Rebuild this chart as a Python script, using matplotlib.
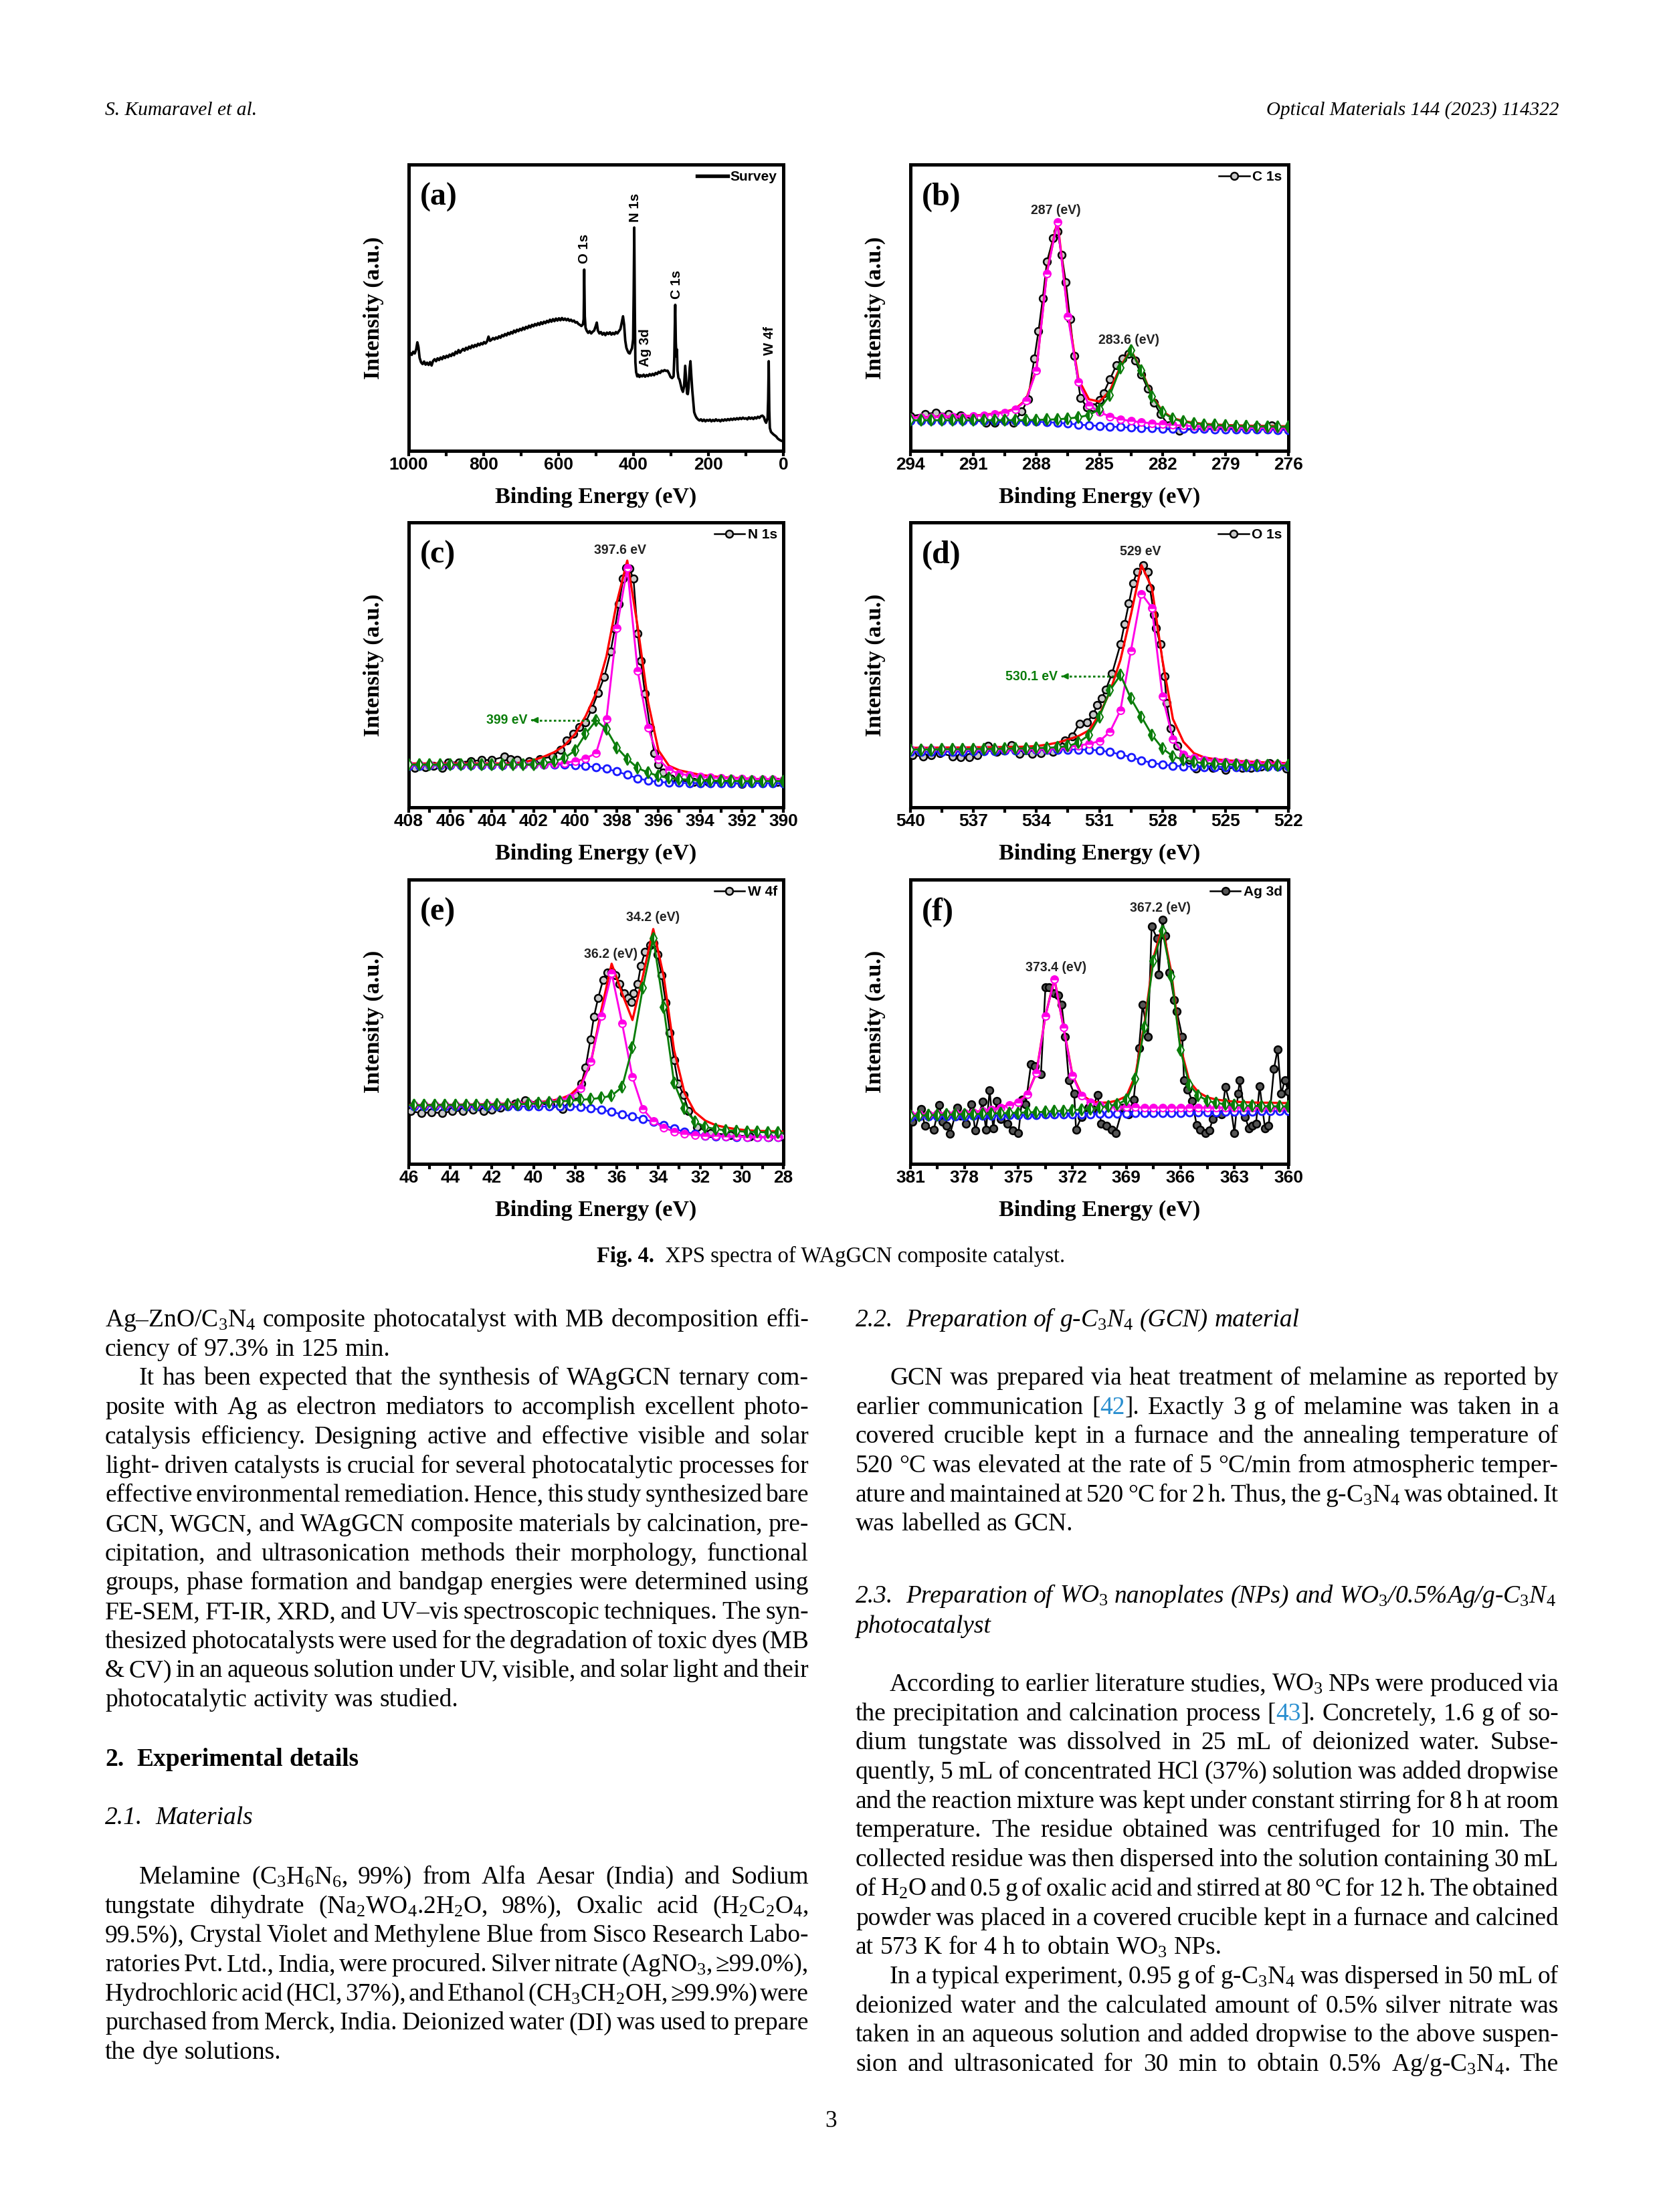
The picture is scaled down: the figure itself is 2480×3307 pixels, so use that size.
import re
import numpy as np
import matplotlib
matplotlib.use("Agg")
import matplotlib.pyplot as plt
from matplotlib.ticker import MultipleLocator
from matplotlib.lines import Line2D

plt.rcParams["font.family"] = "Liberation Sans"
plt.rcParams["font.weight"] = "bold"
plt.rcParams["mathtext.fontset"] = "custom"
plt.rcParams["mathtext.rm"] = "Liberation Serif:weight=normal"
plt.rcParams["mathtext.it"] = "Liberation Serif:italic:weight=normal"
plt.rcParams["mathtext.bf"] = "Liberation Serif:weight=bold"

# ---------------- data (intensities in % of the plot height) ----------------
survey_pts = [
    (1000, 33.8), (996, 34.2), (992, 33.5), (988, 34.6), (984, 34.0), (980, 35.5), (977, 37.9), (974, 36.2),
    (971, 32.5), (967, 30.9), (963, 30.3), (959, 31.2), (955, 30.1), (951, 30.8), (947, 30.0), (943, 31.0),
    (939, 29.8), (935, 31.4), (931, 32.0), (927, 31.3), (923, 32.3), (919, 31.7), (915, 32.6), (911, 32.0),
    (907, 33.0), (903, 32.4), (899, 33.2), (895, 32.7), (891, 33.6), (887, 33.1), (883, 34.0), (879, 33.4),
    (875, 34.6), (871, 34.0), (867, 35.2), (863, 34.3), (859, 35.0), (855, 35.6), (851, 35.0), (847, 36.0),
    (843, 35.4), (839, 36.4), (835, 35.8), (831, 36.8), (827, 36.2), (823, 37.0), (819, 36.5), (815, 37.4),
    (811, 36.9), (807, 37.6), (803, 37.2), (799, 38.0), (795, 37.5), (791, 38.2), (787, 39.9), (783, 38.4),
    (779, 38.8), (775, 39.4), (771, 38.9), (767, 39.6), (763, 39.2), (759, 40.0), (755, 39.5), (751, 40.4),
    (747, 40.0), (743, 40.8), (739, 40.3), (735, 41.2), (731, 40.7), (727, 41.5), (723, 41.0), (719, 42.0),
    (715, 41.4), (711, 42.3), (707, 41.8), (703, 42.6), (699, 42.1), (695, 43.0), (691, 42.4), (687, 43.3),
    (683, 42.8), (679, 43.7), (675, 43.1), (671, 44.0), (667, 43.5), (663, 44.3), (659, 43.8), (655, 44.6),
    (651, 44.0), (647, 44.9), (643, 44.3), (639, 45.1), (635, 44.6), (631, 45.4), (627, 44.9), (623, 45.8),
    (619, 45.1), (615, 46.0), (611, 45.3), (607, 46.2), (603, 45.5), (599, 46.3), (595, 45.6), (591, 46.4),
    (587, 45.7), (583, 46.2), (579, 45.6), (575, 46.1), (571, 45.4), (567, 45.8), (563, 45.2), (559, 45.5),
    (555, 44.8), (551, 45.0), (547, 44.3), (543, 44.0), (539, 43.6), (535, 44.2), (533, 46.0), (531.5, 63.3),
    (530, 47.0), (528, 43.0), (525, 42.0), (521, 41.2), (517, 41.8), (513, 41.0), (509, 41.6), (505, 42.0),
    (501, 43.5), (498, 44.8), (495, 42.0), (491, 41.0), (487, 41.5), (483, 40.6), (479, 41.2), (475, 40.4),
    (471, 41.3), (467, 40.8), (463, 41.4), (459, 40.6), (455, 41.2), (451, 40.7), (447, 41.5), (443, 41.0),
    (439, 41.8), (435, 42.5), (431, 45.0), (428, 47.0), (425, 44.0), (422, 38.5), (419, 36.0), (416, 35.0),
    (413, 34.2), (410, 34.0), (407, 35.0), (404, 35.8), (401, 39.0), (399.5, 55.0), (398, 78.0), (396.5, 50.0),
    (395, 31.0), (393, 27.5), (390, 26.0), (387, 26.6), (384, 25.8), (381, 26.4), (377, 26.0), (373, 26.6),
    (369, 25.9), (365, 26.5), (361, 26.1), (357, 26.8), (353, 26.3), (349, 26.9), (345, 26.4), (341, 27.2),
    (337, 26.8), (333, 27.6), (329, 27.2), (325, 28.0), (321, 27.8), (317, 28.2), (313, 27.9), (309, 28.0),
    (305, 27.0), (301, 25.8), (297, 25.4), (293, 26.0), (291, 33.0), (289.5, 45.0), (288.5, 51.0), (287, 38.0),
    (285.5, 33.0), (284, 35.4), (282.5, 28.0), (280, 25.5), (277, 24.8), (274, 23.2), (271, 21.5), (268, 20.6),
    (265, 22.5), (262, 29.7), (259, 24.0), (257, 20.0), (255, 19.8), (253, 22.0), (250, 29.0), (248, 31.3),
    (246, 27.0), (243, 21.0), (240, 16.5), (238, 13.5), (235, 12.4), (232, 11.6), (228, 11.0), (224, 10.6),
    (220, 11.0), (216, 10.4), (212, 10.9), (208, 10.3), (204, 10.8), (200, 10.5), (196, 10.9), (192, 10.3),
    (188, 10.8), (184, 10.4), (180, 11.0), (176, 10.5), (172, 10.8), (168, 10.3), (164, 10.9), (160, 10.5),
    (156, 11.0), (152, 10.6), (148, 11.1), (144, 10.7), (140, 11.2), (136, 10.8), (132, 11.3), (128, 10.9),
    (124, 11.4), (120, 11.0), (116, 11.5), (112, 11.1), (108, 11.6), (104, 11.2), (100, 11.4), (96, 11.0),
    (92, 11.7), (88, 11.2), (84, 11.6), (80, 11.1), (76, 11.7), (72, 11.3), (68, 11.9), (64, 11.5),
    (60, 12.1), (56, 12.3), (52, 11.8), (49, 10.5), (46, 9.8), (42, 11.5), (40.5, 18.0), (39, 31.3),
    (37.5, 14.0), (36, 8.0), (33, 6.6), (30, 6.2), (27, 5.8), (23, 5.4), (19, 5.0), (15, 4.3),
    (11, 3.9), (7, 3.6), (3, 3.4), (0, 3.4),
]
survey_labels = [("O 1s", 531, 65.5), ("N 1s", 395.5, 80.0), ("C 1s", 284.0, 53.0),
                 ("Ag 3d", 369.4, 29.5), ("W 4f", 35.8, 33.5)]

# C 1s
be_b = [294.0, 293.5, 293.0, 292.5, 292.0, 291.5, 291.0, 290.5, 290.0, 289.5, 289.0, 288.5, 288.0,
        287.5, 287.0, 286.5, 286.0, 285.5, 285.0, 284.5, 284.0, 283.5, 283.0, 282.5, 282.0, 281.5,
        281.0, 280.5, 280.0, 279.5, 279.0, 278.5, 278.0, 277.5, 277.0, 276.5, 276.0]
bg_b = [10.6, 10.6, 10.6, 10.6, 10.6, 10.5, 10.5, 10.5, 10.5, 10.4, 10.4, 10.3, 10.2, 10.0, 9.8, 9.5,
        9.2, 8.9, 8.7, 8.5, 8.3, 8.1, 8.0, 7.9, 7.8, 7.7, 7.7, 7.6, 7.6, 7.5, 7.5, 7.5, 7.4, 7.4, 7.4, 7.3, 7.3]
pk1_b = [11.5, 11.6, 11.7, 11.8, 11.9, 12.0, 12.2, 12.4, 12.8, 13.4, 14.5, 17.5, 28.0, 62.0, 80.0, 47.0,
         24.0, 16.0, 13.5, 12.0, 11.0, 10.4, 10.0, 9.6, 9.3, 9.0, 8.8, 8.6, 8.5, 8.4, 8.3, 8.2, 8.1, 8.1,
         8.0, 8.0, 8.0]
pk2_b = [10.7, 10.7, 10.7, 10.7, 10.7, 10.7, 10.7, 10.7, 10.7, 10.7, 10.7, 10.7, 10.8, 10.9, 11.0, 11.3,
         11.7, 12.5, 14.5, 19.5, 29.0, 35.0, 28.0, 19.0, 13.5, 11.2, 10.2, 9.6, 9.2, 9.0, 8.8, 8.7, 8.6,
         8.5, 8.5, 8.4, 8.4]
env_b = [11.6, 11.7, 11.8, 11.9, 12.0, 12.1, 12.3, 12.6, 13.0, 13.6, 14.7, 17.8, 28.5, 62.5, 80.5, 48.0,
         25.0, 18.0, 17.2, 21.0, 29.5, 35.2, 28.2, 19.3, 13.8, 11.4, 10.4, 9.8, 9.4, 9.2, 9.0, 8.9, 8.8,
         8.7, 8.7, 8.6, 8.6]
dat_b_x = [294.0, 293.3, 292.8, 292.2, 291.6, 291.0, 290.4, 290.0, 289.5, 289.1, 288.7, 288.4, 288.1,
           287.9, 287.7, 287.5, 287.2, 287.0, 286.8, 286.6, 286.4, 286.2, 285.9, 285.6, 285.3, 285.0,
           284.8, 284.5, 284.2, 283.9, 283.6, 283.3, 283.0, 282.7, 282.4, 282.1, 281.7, 281.2, 280.5,
           279.5, 278.5, 277.5, 276.8, 276.0]
dat_b_y = [12.1, 12.9, 13.3, 12.9, 12.5, 10.9, 9.7, 9.7, 10.5, 9.7, 13.7, 18.1, 32.3, 41.9, 53.2, 66.1,
           74.2, 76.6, 68.5, 58.9, 46.0, 33.1, 18.5, 15.3, 15.3, 17.7, 20.2, 25.0, 29.8, 32.3, 33.9, 31.5,
           26.6, 21.8, 16.9, 12.9, 8.9, 6.9, 7.7, 7.7, 8.1, 8.5, 8.9, 7.3]

# N 1s
be_c = [408.0, 407.5, 407.0, 406.5, 406.0, 405.5, 405.0, 404.5, 404.0, 403.5, 403.0, 402.5, 402.0,
        401.5, 401.0, 400.5, 400.0, 399.5, 399.0, 398.5, 398.0, 397.5, 397.0, 396.5, 396.0, 395.5,
        395.0, 394.5, 394.0, 393.5, 393.0, 392.5, 392.0, 391.5, 391.0, 390.5, 390.0]
bg_c = [14.6, 14.6, 14.7, 14.7, 14.7, 14.8, 14.8, 14.8, 14.9, 14.9, 15.0, 15.0, 15.1, 15.1, 15.1, 15.0,
        14.8, 14.5, 14.1, 13.5, 12.6, 11.4, 10.2, 9.4, 8.9, 8.7, 8.6, 8.5, 8.5, 8.5, 8.5, 8.5, 8.5, 8.5,
        8.5, 8.5, 8.5]
pk1_c = [15.0, 15.0, 15.0, 15.0, 15.0, 15.0, 15.0, 15.0, 15.0, 15.0, 15.0, 15.0, 15.0, 15.0, 15.2, 15.6,
         16.2, 17.2, 19.0, 31.0, 63.0, 84.0, 48.0, 28.0, 17.0, 13.2, 11.8, 11.2, 10.8, 10.5, 10.3, 10.1,
         10.0, 9.9, 9.8, 9.8, 9.7]
pk2_c = [15.0, 15.0, 15.0, 15.0, 15.0, 15.0, 15.0, 15.0, 15.0, 15.0, 15.0, 15.0, 15.0, 15.5, 16.2, 17.4,
         20.0, 25.8, 30.5, 27.4, 21.0, 17.0, 13.8, 12.2, 11.0, 10.3, 9.9, 9.7, 9.5, 9.4, 9.3, 9.3, 9.2,
         9.2, 9.2, 9.2, 9.2]
env_c = [15.4, 15.4, 15.4, 15.4, 15.4, 15.4, 15.4, 15.4, 15.4, 15.4, 15.4, 15.8, 16.6, 17.8, 19.4, 21.8,
         25.8, 32.0, 40.0, 53.0, 72.0, 86.6, 63.4, 37.0, 20.0, 14.6, 13.0, 12.2, 11.4, 11.0, 10.6, 10.4,
         10.2, 10.0, 9.9, 9.8, 9.8]
dat_c_x = [407.7, 407.2, 406.8, 406.4, 406.1, 405.6, 405.0, 404.5, 404.0, 403.4, 403.1, 402.8, 402.2,
           401.7, 401.1, 400.7, 400.4, 400.1, 399.8, 399.5, 399.2, 398.9, 398.6, 398.3, 398.1, 397.9,
           397.7, 397.55, 397.4, 397.2, 397.0, 396.85, 396.65, 396.4, 396.2, 396.0, 395.8, 395.4, 395.0,
           394.3, 393.6, 393.0, 392.0, 391.0, 390.3]
dat_c_y = [13.8, 14.2, 14.6, 13.8, 15.8, 15.8, 16.2, 16.6, 16.6, 17.8, 17.0, 16.6, 16.3, 17.0, 17.8, 20.2,
           23.4, 25.8, 28.2, 29.8, 34.6, 40.2, 45.8, 54.6, 62.6, 71.4, 80.2, 84.0, 83.8, 80.2, 61.0, 51.4,
           40.0, 28.0, 19.0, 15.0, 12.2, 10.2, 9.4, 9.0, 9.0, 9.0, 8.2, 9.4, 9.0]

# O 1s
be_d = [540.0, 539.5, 539.0, 538.5, 538.0, 537.5, 537.0, 536.5, 536.0, 535.5, 535.0, 534.5, 534.0,
        533.5, 533.0, 532.5, 532.0, 531.5, 531.0, 530.5, 530.0, 529.5, 529.0, 528.5, 528.0, 527.5,
        527.0, 526.5, 526.0, 525.5, 525.0, 524.5, 524.0, 523.5, 523.0, 522.5, 522.0]
bg_d = [19.5, 19.5, 19.5, 19.5, 19.6, 19.6, 19.7, 19.7, 19.8, 19.9, 20.0, 20.1, 20.2, 20.3, 20.3, 20.3,
        20.3, 20.2, 20.0, 19.4, 18.6, 17.6, 16.5, 15.6, 15.0, 14.6, 14.4, 14.3, 14.2, 14.2, 14.2, 14.2,
        14.2, 14.2, 14.3, 14.3, 14.3]
pk1_d = [20.4, 20.4, 20.4, 20.4, 20.4, 20.4, 20.4, 20.4, 20.4, 20.4, 20.4, 20.4, 20.4, 20.4, 20.8, 21.2,
         21.7, 22.3, 23.2, 26.5, 34.0, 55.0, 75.0, 70.0, 39.0, 24.0, 18.5, 17.3, 16.7, 16.3, 16.0, 15.8,
         15.6, 15.4, 15.3, 15.2, 15.1]
pk2_d = [20.3, 20.3, 20.3, 20.4, 20.4, 20.4, 20.5, 20.5, 20.5, 20.6, 20.6, 20.7, 20.8, 20.9, 21.1, 21.5,
         22.7, 25.4, 31.8, 41.0, 46.5, 38.2, 31.8, 25.4, 20.7, 17.9, 16.7, 15.9, 15.5, 15.3, 15.1, 15.0,
         14.9, 14.8, 14.8, 14.7, 14.7]
env_d = [20.9, 20.9, 20.9, 21.0, 21.0, 21.0, 21.1, 21.1, 21.1, 21.2, 21.2, 21.3, 21.5, 22.0, 22.7, 23.8,
         25.0, 27.0, 32.6, 40.5, 51.7, 67.6, 85.0, 77.0, 51.7, 31.0, 23.0, 19.0, 17.5, 16.9, 16.5, 16.3,
         16.1, 15.9, 15.7, 15.6, 15.5]
dat_d_x = [539.9, 539.4, 539.0, 538.6, 538.0, 537.6, 537.2, 536.8, 536.3, 535.9, 535.55, 535.2, 534.8,
           534.2, 533.8, 533.2, 532.65, 532.3, 531.95, 531.6, 531.3, 531.1, 530.9, 530.7, 530.4, 530.0,
           529.8, 529.6, 529.4, 529.2, 528.9, 528.7, 528.6, 528.4, 528.3, 528.1, 527.9, 527.8, 527.6,
           527.3, 527.0, 526.7, 526.4, 526.0, 525.6, 525.0, 524.5, 524.2, 523.8, 523.3, 522.9, 522.5, 522.1]
dat_d_y = [18.3, 17.9, 18.3, 19.1, 17.9, 17.5, 17.5, 18.3, 21.5, 19.5, 19.9, 21.9, 18.7, 18.7, 19.1, 19.5,
           23.5, 25.0, 29.4, 29.8, 32.6, 35.8, 38.2, 41.3, 46.9, 57.2, 64.4, 71.5, 78.7, 82.7, 85.0, 82.7,
           77.1, 67.6, 62.8, 57.2, 46.1, 36.6, 27.8, 21.5, 18.3, 16.7, 13.5, 14.3, 13.9, 13.1, 14.3, 13.9,
           13.9, 14.3, 15.5, 14.3, 13.5]

# W 4f
be_e = [46.25, 45.75, 45.25, 44.75, 44.25, 43.75, 43.25, 42.75, 42.25, 41.75, 41.25, 40.75, 40.25,
        39.75, 39.25, 38.75, 38.25, 37.75, 37.25, 36.75, 36.25, 35.75, 35.25, 34.75, 34.25, 33.75,
        33.25, 32.75, 32.25, 31.75, 31.25, 30.75, 30.25, 29.75, 29.25, 28.75, 28.25, 27.75]
bg_e = [20.2, 20.2, 20.2, 20.2, 20.2, 20.2, 20.2, 20.2, 20.2, 20.2, 20.2, 20.2, 20.2, 20.2, 20.2, 20.2,
        20.2, 20.0, 19.6, 19.0, 18.3, 17.4, 16.6, 15.8, 14.8, 13.6, 12.4, 11.3, 10.5, 9.9, 9.7, 9.6, 9.5,
        9.5, 9.4, 9.4, 9.3, 9.3]
pk1_e = [20.6, 20.6, 20.6, 20.6, 20.7, 20.7, 20.8, 20.8, 20.9, 21.0, 21.0, 21.1, 21.3, 21.5, 21.8, 22.3,
         23.4, 26.5, 36.0, 52.0, 67.0, 49.5, 30.5, 19.3, 15.0, 12.8, 11.3, 10.6, 10.1, 9.9, 9.8, 9.7, 9.6,
         9.5, 9.4, 9.4, 9.3, 9.3]
pk2_e = [20.6, 20.6, 20.6, 20.7, 20.7, 20.7, 20.8, 20.8, 20.8, 20.9, 20.9, 21.0, 21.1, 21.3, 21.7, 22.0,
         22.2, 22.5, 22.8, 23.2, 24.0, 27.0, 41.0, 62.0, 79.4, 55.0, 28.5, 19.5, 14.8, 13.0, 12.2, 11.8,
         11.5, 11.3, 11.2, 11.1, 11.0, 10.9]
env_e = [20.7, 20.7, 20.7, 20.8, 20.8, 20.8, 20.9, 20.9, 21.0, 21.1, 21.2, 21.3, 21.5, 21.7, 22.1, 22.8,
         24.2, 27.5, 35.5, 54.0, 70.4, 60.0, 50.6, 66.0, 82.6, 66.0, 40.0, 25.0, 18.2, 15.2, 13.6, 12.8,
         12.2, 11.8, 11.6, 11.5, 11.4, 11.3]
dat_e_x = [45.9, 45.4, 44.9, 44.4, 43.9, 43.4, 42.9, 42.4, 42.0, 41.6, 40.9, 40.4, 39.8, 39.2, 38.6, 38.0,
           37.7, 37.5, 37.27, 37.1, 36.9, 36.66, 36.46, 36.26, 36.06, 35.86, 35.66, 35.45, 35.3, 35.2,
           35.0, 34.85, 34.65, 34.4, 34.25, 34.05, 33.85, 33.65, 33.45, 33.25, 33.05, 32.8, 32.55, 32.15,
           31.5, 30.55, 29.6, 28.7, 28.1]
dat_e_y = [18.6, 17.8, 18.2, 17.8, 18.6, 18.6, 19.0, 18.6, 19.0, 19.8, 21.1, 22.3, 21.5, 20.6, 19.4, 24.3,
           28.3, 34.0, 43.7, 51.8, 58.3, 64.8, 67.2, 67.6, 66.4, 63.2, 59.9, 58.3, 57.0, 59.9, 63.2, 69.6,
           74.5, 76.9, 77.7, 73.7, 66.4, 56.7, 46.2, 36.4, 28.3, 24.3, 18.6, 13.0, 10.9, 10.1, 9.7, 9.3, 9.7]

# Ag 3d
be_f = [381.0, 380.5, 380.0, 379.5, 379.0, 378.5, 378.0, 377.5, 377.0, 376.5, 376.0, 375.5, 375.0,
        374.5, 374.0, 373.5, 373.0, 372.5, 372.0, 371.5, 371.0, 370.5, 370.0, 369.5, 369.0, 368.5,
        368.0, 367.5, 367.0, 366.5, 366.0, 365.5, 365.0, 364.5, 364.0, 363.5, 363.0, 362.5, 362.0,
        361.5, 361.0, 360.5, 360.0]
bg_f = [16.5, 16.6, 16.6, 16.7, 16.7, 16.8, 16.8, 16.9, 16.9, 17.0, 17.0, 17.1, 17.1, 17.2, 17.2, 17.3,
        17.3, 17.4, 17.4, 17.5, 17.5, 17.6, 17.6, 17.7, 17.7, 17.8, 17.8, 17.9, 17.9, 18.0, 18.0, 18.1,
        18.1, 18.2, 18.2, 18.3, 18.3, 18.4, 18.4, 18.5, 18.5, 18.6, 18.6]
pk1_f = [17.3, 17.4, 17.5, 17.6, 17.7, 17.8, 18.0, 18.2, 18.5, 19.0, 19.8, 20.6, 21.6, 24.5, 32.0, 52.0,
         65.0, 48.0, 31.0, 24.0, 21.6, 20.6, 20.2, 20.0, 19.9, 19.9, 19.8, 19.8, 19.8, 19.8, 19.8, 19.8,
         19.8, 19.8, 19.8, 19.8, 19.8, 19.8, 19.8, 19.8, 19.8, 19.8, 19.8]
pk2_f = [16.9, 17.0, 17.1, 17.2, 17.3, 17.4, 17.5, 17.5, 17.6, 17.7, 17.8, 17.9, 18.0, 18.1, 18.2, 18.3,
         18.5, 18.7, 18.9, 19.1, 19.4, 19.8, 20.3, 21.0, 22.5, 30.0, 48.0, 71.4, 82.0, 66.0, 40.0, 27.8,
         24.0, 22.2, 21.4, 21.0, 20.7, 20.5, 20.4, 20.3, 20.3, 20.2, 20.2]
env_f = [17.4, 17.5, 17.6, 17.7, 17.8, 17.9, 18.1, 18.3, 18.6, 19.1, 19.9, 20.7, 21.7, 24.6, 32.1, 52.1,
         65.1, 48.2, 31.3, 24.4, 22.2, 21.5, 21.6, 22.3, 23.8, 31.2, 49.2, 72.6, 83.2, 67.2, 41.2, 29.0,
         25.2, 23.4, 22.6, 22.2, 21.9, 21.7, 21.6, 21.5, 21.5, 21.4, 21.4]
dat_f_x = [380.9, 380.4, 380.2, 379.7, 379.4, 379.2, 379.0, 378.8, 378.4, 378.2, 377.9, 377.6, 377.4,
           377.0, 376.8, 376.6, 376.4, 376.2, 376.0, 375.6, 375.3, 375.0, 374.8, 374.6, 374.3, 374.1,
           373.75, 373.5, 373.3, 373.0, 372.8, 372.6, 372.4, 372.2, 371.9, 371.8, 371.5, 371.1, 370.9,
           370.6, 370.4, 370.1, 369.8, 369.6, 369.2, 368.9, 368.6, 368.3, 368.1, 367.8, 367.6, 367.3,
           367.2, 367.0, 366.85, 366.6, 366.35, 366.2, 365.9, 365.8, 365.6, 365.35, 365.1, 364.9, 364.6,
           364.4, 364.2, 363.7, 363.5, 363.2, 363.0, 362.8, 362.7, 362.4, 362.2, 362.0, 361.8, 361.6,
           361.3, 361.1, 360.8, 360.6, 360.4, 360.2, 360.0]
dat_f_y = [14.9, 19.4, 13.3, 12.1, 20.6, 14.9, 13.3, 10.5, 19.8, 16.9, 14.1, 21.0, 11.7, 21.8, 12.1, 25.8,
           12.5, 22.2, 15.7, 14.1, 11.7, 10.9, 22.6, 21.0, 35.1, 34.3, 31.5, 62.1, 62.1, 60.1, 59.3, 56.0,
           44.8, 29.4, 24.6, 12.1, 16.5, 19.8, 19.4, 24.2, 14.1, 13.3, 12.1, 10.9, 19.8, 17.3, 22.6, 40.7,
           56.0, 44.8, 83.5, 79.4, 66.5, 85.9, 80.2, 67.3, 57.7, 53.6, 44.8, 29.4, 26.2, 22.2, 13.7, 12.1,
           10.9, 11.7, 15.7, 17.3, 27.0, 19.8, 10.9, 24.6, 29.4, 16.5, 12.5, 13.3, 14.1, 27.4, 12.5, 13.3,
           33.5, 40.3, 24.6, 29.4, 25.4]

# ---------------- page text ----------------
left_par1 = ["Ag–ZnO/C$_3$N$_4$ composite photocatalyst with MB decomposition effi-",
             "ciency of 97.3% in 125 min."]
left_par2 = ["It has been expected that the synthesis of WAgGCN ternary com-",
             "posite with Ag as electron mediators to accomplish excellent photo-",
             "catalysis efficiency. Designing active and effective visible and solar",
             "light- driven catalysts is crucial for several photocatalytic processes for",
             "effective environmental remediation. Hence, this study synthesized bare",
             "GCN, WGCN, and WAgGCN composite materials by calcination, pre-",
             "cipitation, and ultrasonication methods their morphology, functional",
             "groups, phase formation and bandgap energies were determined using",
             "FE-SEM, FT-IR, XRD, and UV–vis spectroscopic techniques. The syn-",
             "thesized photocatalysts were used for the degradation of toxic dyes (MB",
             "& CV) in an aqueous solution under UV, visible, and solar light and their",
             "photocatalytic activity was studied."]
left_par3 = ["Melamine (C$_3$H$_6$N$_6$, 99%) from Alfa Aesar (India) and Sodium",
             "tungstate dihydrate (Na$_2$WO$_4$.2H$_2$O, 98%), Oxalic acid (H$_2$C$_2$O$_4$,",
             "99.5%), Crystal Violet and Methylene Blue from Sisco Research Labo-",
             "ratories Pvt. Ltd., India, were procured. Silver nitrate (AgNO$_3$, ≥99.0%),",
             "Hydrochloric acid (HCl, 37%), and Ethanol (CH$_3$CH$_2$OH, ≥99.9%) were",
             "purchased from Merck, India. Deionized water (DI) was used to prepare",
             "the dye solutions."]
right_par1 = ["GCN was prepared via heat treatment of melamine as reported by",
              "earlier communication [{42}]. Exactly 3 g of melamine was taken in a",
              "covered crucible kept in a furnace and the annealing temperature of",
              "520 °C was elevated at the rate of 5 °C/min from atmospheric temper-",
              "ature and maintained at 520 °C for 2 h. Thus, the g-C$_3$N$_4$ was obtained. It",
              "was labelled as GCN."]
right_par2 = ["According to earlier literature studies, WO$_3$ NPs were produced via",
              "the precipitation and calcination process [{43}]. Concretely, 1.6 g of so-",
              "dium tungstate was dissolved in 25 mL of deionized water. Subse-",
              "quently, 5 mL of concentrated HCl (37%) solution was added dropwise",
              "and the reaction mixture was kept under constant stirring for 8 h at room",
              "temperature. The residue obtained was centrifuged for 10 min. The",
              "collected residue was then dispersed into the solution containing 30 mL",
              "of H$_2$O and 0.5 g of oxalic acid and stirred at 80 °C for 12 h. The obtained",
              "powder was placed in a covered crucible kept in a furnace and calcined",
              "at 573 K for 4 h to obtain WO$_3$ NPs."]
right_par3 = ["In a typical experiment, 0.95 g of g-C$_3$N$_4$ was dispersed in 50 mL of",
              "deionized water and the calculated amount of 0.5% silver nitrate was",
              "taken in an aqueous solution and added dropwise to the above suspen-",
              "sion and ultrasonicated for 30 min to obtain 0.5% Ag/g-C$_3$N$_4$. The"]

# ---------------- figure ----------------
W, H = 2480, 3307
fig = plt.figure(figsize=(W / 300, H / 300), dpi=300)
fig.patch.set_facecolor("white")
renderer = fig.canvas.get_renderer()

MAG = "#ff00e6"
GRN = "#0a7d0a"
BLU = "#1a1aff"
RED = "#ff0000"
LINK = "#2a8fd0"
SERIF = "Liberation Serif"


def make_axes(left, top, right, bottom):
    return fig.add_axes([left / W, 1 - bottom / H, (right - left) / W, (bottom - top) / H])


def setup(ax, hi, lo, major, minor, tag):
    ax.set_xlim(hi, lo)
    ax.set_ylim(0, 100)
    ax.set_yticks([])
    ax.xaxis.set_major_locator(MultipleLocator(major))
    ax.xaxis.set_minor_locator(MultipleLocator(minor))
    ax.tick_params(axis="x", which="both", direction="out", width=1.0, top=False)
    ax.tick_params(axis="x", which="major", length=2.0, pad=0.2, labelsize=6.3)
    ax.tick_params(axis="x", which="minor", length=2.0)
    for sp in ax.spines.values():
        sp.set_linewidth(1.2)
    ax.set_xlabel("Binding Energy (eV)", fontsize=8.2, fontweight="bold", family=SERIF, labelpad=5)
    ax.set_ylabel("Intensity (a.u.)", fontsize=8.2, fontweight="bold", family=SERIF, labelpad=9)
    ax.text(0.03, 0.885, "(%s)" % tag, transform=ax.transAxes, fontsize=11.5, fontweight="bold",
            family=SERIF, va="center")


def draw_fit(ax, be, bg, p1, p2, env, dx, dy, name, dark=False):
    h, = ax.plot(dx, dy, color="black", lw=0.6, marker="o", ms=2.6,
                 mfc="#555555" if dark else "#c8c8c8", mec="black", mew=0.6, zorder=3)
    ax.plot(be, env, color=RED, lw=0.8, zorder=4)
    ax.plot(be, bg, color=BLU, lw=0.6, marker="o", ms=2.6, mfc="white", mec=BLU, mew=0.7, zorder=5)
    ax.plot(be, p1, color=MAG, lw=0.7, marker="o", ms=2.6, fillstyle="top", mfc=MAG,
            markerfacecoloralt="white", mec=MAG, mew=0.5, zorder=6)
    ax.plot(be, p2, color=GRN, lw=0.7, marker="d", ms=3.0, fillstyle="left", mfc=GRN,
            markerfacecoloralt="white", mec=GRN, mew=0.5, zorder=7)
    ax.legend([h], [name], loc="upper right", frameon=False, handlelength=2.2, handletextpad=0.2,
              borderaxespad=0.25, borderpad=0.2, prop=dict(family="Liberation Sans", weight="bold", size=5))


def peak_label(ax, txt, x, y, color="#222222", ha="center"):
    ax.text(x, y, txt, fontsize=4.7, fontweight="bold", color=color, ha=ha, va="center", zorder=10)


def dotted_arrow(ax, x_peak, x_end, y):
    ax.plot([x_peak, x_end], [y, y], color=GRN, lw=0.7, ls=(0, (1.2, 1.2)), zorder=10)
    ax.annotate("", xy=(x_end, y), xytext=(x_end - 0.3, y),
                arrowprops=dict(arrowstyle="-|>", color=GRN, lw=0.6, mutation_scale=4), zorder=10)


cols = [(611, 1171), (1361, 1926)]
rows = [(246, 674), (781, 1207), (1315, 1740)]

# (a) survey
ax = make_axes(cols[0][0], rows[0][0], cols[0][1], rows[0][1])
setup(ax, 1000, 0, 200, 100, "a")
sv_be = [p[0] for p in survey_pts]
sv_int = [p[1] for p in survey_pts]
ax.plot(sv_be, sv_int, color="black", lw=0.9)
for txt, x, y in survey_labels:
    ax.text(x, y, txt, rotation=90, fontsize=4.9, fontweight="bold", ha="center", va="bottom")
ax.legend([Line2D([], [], color="black", lw=1.3)], ["Survey"], loc="upper right", frameon=False,
          handlelength=2.2, handletextpad=0.2, borderaxespad=0.25, borderpad=0.2,
          prop=dict(family="Liberation Sans", weight="bold", size=5))

# (b) C 1s
ax = make_axes(cols[1][0], rows[0][0], cols[1][1], rows[0][1])
setup(ax, 294, 276, 3, 1.5, "b")
draw_fit(ax, be_b, bg_b, pk1_b, pk2_b, env_b, dat_b_x, dat_b_y, "C 1s")
peak_label(ax, "287 (eV)", 287.08, 83.9)
peak_label(ax, "283.6 (eV)", 283.6, 38.7)

# (c) N 1s
ax = make_axes(cols[0][0], rows[1][0], cols[0][1], rows[1][1])
setup(ax, 408, 390, 2, 1, "c")
draw_fit(ax, be_c, bg_c, pk1_c, pk2_c, env_c, dat_c_x, dat_c_y, "N 1s")
peak_label(ax, "397.6 eV", 397.85, 90.2)
peak_label(ax, "399 eV", 402.3, 30.6, color=GRN, ha="right")
dotted_arrow(ax, 398.9, 402.1, 30.6)

# (d) O 1s
ax = make_axes(cols[1][0], rows[1][0], cols[1][1], rows[1][1])
setup(ax, 540, 522, 3, 1.5, "d")
draw_fit(ax, be_d, bg_d, pk1_d, pk2_d, env_d, dat_d_x, dat_d_y, "O 1s")
peak_label(ax, "529 eV", 529.06, 89.8)
peak_label(ax, "530.1 eV", 533.0, 46.0, color=GRN, ha="right")
dotted_arrow(ax, 530.1, 532.8, 46.0)

# (e) W 4f
ax = make_axes(cols[0][0], rows[2][0], cols[0][1], rows[2][1])
setup(ax, 46, 28, 2, 1, "e")
draw_fit(ax, be_e, bg_e, pk1_e, pk2_e, env_e, dat_e_x, dat_e_y, "W 4f")
peak_label(ax, "36.2 (eV)", 36.3, 73.7)
peak_label(ax, "34.2 (eV)", 34.25, 86.6)

# (f) Ag 3d
ax = make_axes(cols[1][0], rows[2][0], cols[1][1], rows[2][1])
setup(ax, 381, 360, 3, 1.5, "f")
draw_fit(ax, be_f, bg_f, pk1_f, pk2_f, env_f, dat_f_x, dat_f_y, "Ag 3d", dark=True)
peak_label(ax, "373.4 (eV)", 372.9, 69.0)
peak_label(ax, "367.2 (eV)", 367.1, 90.0)


# ---------------- page text helpers ----------------
def width_of(s, **kw):
    t = fig.text(0, 0, s, **kw)
    w = t.get_window_extent(renderer).width
    t.remove()
    return w


def segments(word):
    out = []
    for s in [p for p in re.split(r"(\{[^}]*\})", word) if p]:
        if s.startswith("{"):
            out.append((s[1:-1], LINK))
        else:
            out.append((s, "black"))
    return out


LX0, LX1 = 157, 1209
RX0, RX1 = 1279, 2330
INDENT = 51

# pick the body size so the tightest justified line still keeps a small word gap
TRY = 9.7
probe = dict(family=SERIF, fontsize=TRY, fontweight="normal")
sp_try = width_of("a a", **probe) - width_of("aa", **probe)
worst = 0
for x0, x1, par in [(LX0, LX1, left_par1), (LX0, LX1, left_par2), (LX0, LX1, left_par3),
                    (RX0, RX1, right_par1), (RX0, RX1, right_par2), (RX0, RX1, right_par3)]:
    for i, ln in enumerate(par[:-1] if par is not right_par3 else par):
        words = ln.split(" ")
        tot = sum(width_of(s, **probe) for w in words for s, _ in segments(w))
        avail = x1 - x0 - (INDENT if (i == 0 and par is not left_par1) else 0)
        worst = max(worst, (tot + 0.45 * sp_try * (len(words) - 1)) / avail)
BODY_SIZE = min(TRY, TRY / worst)
BODY = dict(family=SERIF, fontsize=BODY_SIZE, fontweight="normal")
space_w = width_of("a a", **BODY) - width_of("aa", **BODY)


def put_line(x0, x1, yb, line, justify=True, indent=0, **kw):
    props = dict(BODY)
    props.update(kw)
    words = line.split(" ")
    pieces = []
    total = 0
    for w in words:
        arts = []
        for s, col in segments(w):
            t = fig.text(0, 1 - yb / H, s, color=col, va="baseline", ha="left", **props)
            arts.append((t, t.get_window_extent(renderer).width))
        pieces.append(arts)
        total += sum(a[1] for a in arts)
    x = x0 + indent
    gap = (x1 - x - total) / (len(words) - 1) if (justify and len(words) > 1) else space_w
    for arts in pieces:
        for t, w in arts:
            t.set_x(x / W)
            x += w
        x += gap


def put_par(x0, x1, y0, lines, indent=INDENT, last_justified=False, pitch=43.7):
    for i, ln in enumerate(lines):
        just = (i < len(lines) - 1) or last_justified
        put_line(x0, x1, y0 + i * pitch, ln, justify=just, indent=indent if i == 0 else 0)


BASE = 3

# header
fig.text(LX0 / W, 1 - 172 / H, "S. Kumaravel et al.", family=SERIF, fontsize=7.1, style="italic",
         fontweight="normal", va="baseline")
fig.text(RX1 / W, 1 - 172 / H, "Optical Materials 144 (2023) 114322", family=SERIF, fontsize=7.0,
         style="italic", fontweight="normal", va="baseline", ha="right")

# caption
cap_b = "Fig. 4."
cap_r = "  XPS spectra of WAgGCN composite catalyst."
wb = width_of(cap_b, family=SERIF, fontsize=7.85, fontweight="bold")
wr = width_of(cap_r, family=SERIF, fontsize=7.85, fontweight="normal")
cx = 1242 - (wb + wr) / 2
fig.text(cx / W, 1 - 1887 / H, cap_b, family=SERIF, fontsize=7.85, fontweight="bold", va="baseline")
fig.text((cx + wb) / W, 1 - 1887 / H, cap_r, family=SERIF, fontsize=7.85, fontweight="normal", va="baseline")

# left column
put_par(LX0, LX1, 1980 + BASE, left_par1, indent=0)
put_par(LX0, LX1, 1980 + 2 * 43.7 + BASE, left_par2)
put_line(LX0, LX1, 2637 + BASE, "2.  Experimental details", justify=False, fontweight="bold")
put_line(LX0, LX1, 2724 + BASE, "2.1.  Materials", justify=False, style="italic")
put_par(LX0, LX1, 2813 + BASE, left_par3)

# right column
put_line(RX0, RX1, 1980 + BASE, "2.2.  Preparation of g-C$_3$N$_4$ (GCN) material", justify=False, style="italic")
put_par(RX0, RX1, 2067 + BASE, right_par1)
put_line(RX0, RX1, 2393 + BASE, "2.3.  Preparation of WO$_3$ nanoplates (NPs) and WO$_3$/0.5%Ag/g-C$_3$N$_4$",
         justify=False, style="italic")
put_line(RX0, RX1, 2438 + BASE, "photocatalyst", justify=False, style="italic")
put_par(RX0, RX1, 2525 + BASE, right_par2)
put_par(RX0, RX1, 2962 + BASE, right_par3, last_justified=True)

# page number
fig.text(1242 / W, 1 - 3180 / H, "3", family=SERIF, fontsize=8.5, fontweight="normal", ha="center",
         va="baseline")

fig.savefig("out.png", dpi=300, facecolor="white")
